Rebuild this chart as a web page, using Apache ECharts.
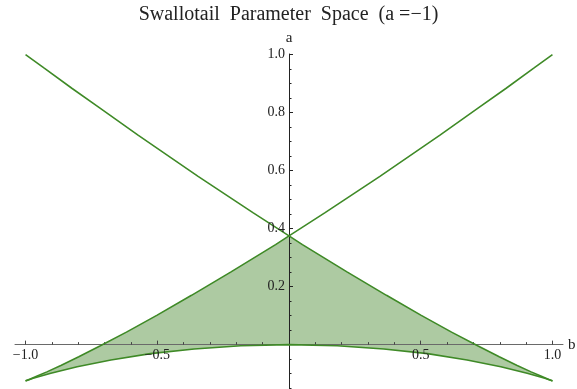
<!DOCTYPE html>
<html>
<head>
<meta charset="utf-8">
<script src="https://cdn.jsdelivr.net/npm/echarts@6/dist/echarts.min.js"></script>
<style>
  html, body { margin: 0; padding: 0; background: #fff; }
  #chart { width: 577px; height: 389px; }
</style>
</head>
<body>
<div id="chart"></div>
<script>
// Bifurcation curve of the swallowtail section, split into three branches (b, a).
// Rising branch: from the lower-left cusp up through the self-intersection to the upper right.
const risingB = [-1.000, -0.997, -0.984, -0.958, -0.919, -0.866, -0.798, -0.716, -0.617, -0.502, -0.370, -0.220, -0.051, 0.000, 0.137, 0.345, 0.573, 0.720, 0.823, 0.929, 1.000];
const risingA = [-0.125, -0.124, -0.119, -0.109, -0.094, -0.072, -0.042, -0.004, 0.043, 0.101, 0.170, 0.251, 0.345, 0.375, 0.455, 0.580, 0.722, 0.817, 0.883, 0.953, 1.000];
// Falling branch: from the upper left down through the self-intersection to the lower-right cusp.
const fallingB = [-1.000, -0.929, -0.823, -0.720, -0.573, -0.345, -0.137, 0.000, 0.051, 0.220, 0.370, 0.502, 0.617, 0.716, 0.798, 0.866, 0.919, 0.958, 0.984, 0.997, 1.000];
const fallingA = [1.000, 0.953, 0.883, 0.817, 0.722, 0.580, 0.455, 0.375, 0.345, 0.251, 0.170, 0.101, 0.043, -0.004, -0.042, -0.072, -0.094, -0.109, -0.119, -0.124, -0.125];
// Lower arc joining the two cusps through the origin.
const lowerB = [-1.000, -0.993, -0.971, -0.904, -0.804, -0.676, -0.526, -0.360, -0.183, 0.000, 0.183, 0.360, 0.526, 0.676, 0.804, 0.904, 0.971, 0.993, 1.000];
const lowerA = [-0.125, -0.123, -0.116, -0.099, -0.076, -0.053, -0.031, -0.015, -0.004, 0.000, -0.004, -0.015, -0.031, -0.053, -0.076, -0.099, -0.116, -0.123, -0.125];

// Tick positions
const bMajor = [-1.0, -0.5, 0.5, 1.0];
const bMinor = [-0.9, -0.8, -0.7, -0.6, -0.4, -0.3, -0.2, -0.1, 0.1, 0.2, 0.3, 0.4, 0.6, 0.7, 0.8, 0.9];
const aMajor = [0.2, 0.4, 0.6, 0.8, 1.0];
const aMinor = [-0.15, -0.1, -0.05, 0.05, 0.1, 0.15, 0.25, 0.3, 0.35, 0.45, 0.5, 0.55, 0.65, 0.7, 0.75, 0.85, 0.9, 0.95];

const zip = (xs, ys) => xs.map((x, i) => [x, ys[i]]);

// Outline of the shaded triangle-like region: rising edge to the apex, falling edge to the right cusp,
// then back along the lower arc.
const region = []
  .concat(zip(risingB, risingA).filter(p => p[0] <= 0))
  .concat(zip(fallingB, fallingA).filter(p => p[0] > 0))
  .concat(zip(lowerB, lowerA).reverse().slice(1));

const SERIF = '"Liberation Serif", "DejaVu Serif", serif';
const LINE = '#3f8a27';
const TEXT = '#222';
const fmt = v => v.toFixed(1).replace('-', '\u2212');

const xBase = {
  type: 'value', min: -1.04, max: 1.04, position: 'bottom', z: 2,
  axisLine: { onZero: true, lineStyle: { color: '#6a6a6a', width: 1 } },
  axisLabel: { show: false },
  splitLine: { show: false }
};
const yBase = {
  type: 'value', min: -0.153, max: 1.002, position: 'left', z: 2,
  axisLine: { onZero: true, lineStyle: { color: '#222', width: 1 } },
  axisLabel: { show: false },
  splitLine: { show: false }
};

// Tick labels sit next to the axes that cross at the origin.
const tickText = (x, y, text, align, vAlign) => ({
  type: 'text', x, y,
  style: { text, fontFamily: SERIF, fontSize: 14, fill: TEXT, align, verticalAlign: vAlign }
});

const chart = echarts.init(document.getElementById('chart'), null, { renderer: 'canvas' });
chart.setOption({
  animation: false,
  title: {
    text: 'Swallotail  Parameter  Space  (a =\u22121)',
    left: 'center', top: 0,
    textStyle: { fontFamily: SERIF, fontSize: 20, fontWeight: 'normal', color: TEXT }
  },
  grid: { left: 15, right: 14, top: 54, bottom: 0, outerBoundsMode: 'none', containLabel: false },
  xAxis: [
    Object.assign({}, xBase, {
      name: 'b', nameLocation: 'end', nameGap: 5,
      nameTextStyle: { fontFamily: SERIF, fontSize: 15, color: TEXT, verticalAlign: 'middle' },
      axisTick: { show: true, inside: true, length: 4, customValues: bMajor, lineStyle: { color: '#444' } }
    }),
    Object.assign({}, xBase, {
      axisLine: { show: false, onZero: true },
      axisTick: { show: true, inside: true, length: 2.5, customValues: bMinor, lineStyle: { color: '#444' } }
    })
  ],
  yAxis: [
    Object.assign({}, yBase, {
      name: 'a', nameLocation: 'end', nameGap: 8,
      nameTextStyle: { fontFamily: SERIF, fontSize: 15, color: TEXT },
      axisTick: { show: true, inside: true, length: 4, customValues: aMajor, lineStyle: { color: '#222' } }
    }),
    Object.assign({}, yBase, {
      axisLine: { show: false, onZero: true },
      axisTick: { show: true, inside: true, length: 2.5, customValues: aMinor, lineStyle: { color: '#222' } }
    })
  ],
  series: [
    {
      type: 'custom', z: 1, silent: true,
      xAxisIndex: 0, yAxisIndex: 0,
      data: [[0, 0]],
      renderItem: (params, api) => ({
        type: 'polygon',
        shape: { points: region.map(p => api.coord(p)) },
        style: { fill: '#adcaa2', stroke: 'none' }
      })
    },
    {
      type: 'line', z: 3, showSymbol: false, silent: true,
      data: zip(risingB, risingA),
      lineStyle: { color: LINE, width: 1.6 }
    },
    {
      type: 'line', z: 3, showSymbol: false, silent: true,
      data: zip(fallingB, fallingA),
      lineStyle: { color: LINE, width: 1.6 }
    },
    {
      type: 'line', z: 3, showSymbol: false, silent: true,
      data: zip(lowerB, lowerA),
      lineStyle: { color: LINE, width: 1.6 }
    },
    {
      // b tick labels under the horizontal axis
      type: 'custom', z: 5, silent: true, clip: false,
      data: bMajor.map(v => [v, 0]),
      renderItem: (params, api) => {
        const p = api.coord([api.value(0), api.value(1)]);
        return tickText(p[0], p[1] + 4, fmt(api.value(0)), 'center', 'top');
      }
    },
    {
      // a tick labels left of the vertical axis
      type: 'custom', z: 5, silent: true, clip: false,
      data: aMajor.map(v => [0, v]),
      renderItem: (params, api) => {
        const p = api.coord([api.value(0), api.value(1)]);
        return tickText(p[0] - 4, p[1], fmt(api.value(1)), 'right', 'middle');
      }
    }
  ]
});
</script>
</body>
</html>
